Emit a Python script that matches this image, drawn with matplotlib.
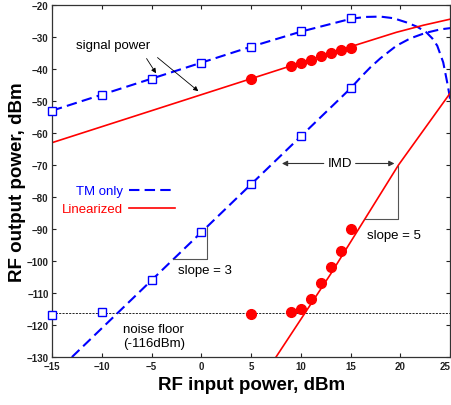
import matplotlib
matplotlib.use("Agg")
import matplotlib.pyplot as plt
from matplotlib.lines import Line2D

plt.rcParams["font.family"] = ["Liberation Sans", "DejaVu Sans"]

BLUE = "#0000ff"
RED = "#ff0000"

# measured points
tm_sig_x = [-15, -10, -5, 0, 5, 10, 15]
tm_sig_y = [-53, -48, -43, -38, -33, -28, -24]
tm_imd_x = [-15, -10, -5, 0, 5, 10, 15]
tm_imd_y = [-117, -116, -106, -91, -76, -61, -46]
lin_sig_x = [5, 9, 10, 11, 12, 13, 14, 15]
lin_sig_y = [-43, -39, -38, -37.2, -36, -35, -34, -33.5]
lin_imd_x = [5, 9, 10, 11, 12, 13, 14, 15]
lin_imd_y = [-116.5, -116, -115, -112, -107, -102, -97, -90]

# fitted curves
tm_sig_fit_x = [-15, -10, -5, 0, 5, 10, 15, 16.5, 18, 19.3, 20.6, 21.7, 22.6, 23.2, 23.7, 24.3, 24.7, 24.95, 25]
tm_sig_fit_y = [-53, -48, -43, -38, -33, -28.3, -24.3, -23.7, -23.6, -24.1, -25.4, -26.8, -28.5, -30.4, -32.7, -37.9, -44.2, -48.5, -50]
tm_imd_fit_x = [-13, 15, 16, 17, 18, 19.6, 21, 22.5, 24, 25]
tm_imd_fit_y = [-130, -46, -42.6, -39.4, -36.6, -32.7, -30.4, -28.7, -27.6, -27.2]
lin_sig_fit_x = [-15, 5, 15, 19.6, 22.3, 25]
lin_sig_fit_y = [-63, -43, -33, -28.5, -26.3, -24.4]
lin_imd_fit_x = [7.5, 13, 19.8, 25]
lin_imd_fit_y = [-130, -104, -70, -47.5]

noise_floor = -116.3

fig = plt.figure(figsize=(4.52, 4.06), dpi=100)
ax = fig.add_axes([0.115, 0.118, 0.881, 0.867])

ax.axhline(noise_floor, color="black", lw=0.6, ls=(0, (2.5, 1.5)), zorder=1)

dash = (0, (5, 2.5))
ax.plot(tm_sig_fit_x, tm_sig_fit_y, color=BLUE, lw=1.5, ls=dash)
ax.plot(tm_imd_fit_x, tm_imd_fit_y, color=BLUE, lw=1.5, ls=dash)
ax.plot(lin_sig_fit_x, lin_sig_fit_y, color=RED, lw=1.2)
ax.plot(lin_imd_fit_x, lin_imd_fit_y, color=RED, lw=1.2)

ax.plot(tm_sig_x, tm_sig_y, "s", ms=6.2, mfc="white", mec=BLUE, mew=1.0, ls="none", clip_on=False, zorder=3)
ax.plot(tm_imd_x, tm_imd_y, "s", ms=6.2, mfc="white", mec=BLUE, mew=1.0, ls="none", clip_on=False, zorder=3)
ax.plot(lin_sig_x, lin_sig_y, "o", ms=7, color=RED, ls="none", zorder=3)
ax.plot(lin_imd_x, lin_imd_y, "o", ms=7, color=RED, ls="none", zorder=3)

ax.set_xlim(-15, 25)
ax.set_ylim(-130, -20)
ax.set_xticks(range(-15, 26, 5))
ax.set_yticks(range(-130, -19, 10))
ax.tick_params(direction="in", length=3, width=0.8, top=True, right=True,
               labelsize=7, pad=2.5, colors="#222222")
for lab in ax.get_xticklabels() + ax.get_yticklabels():
    lab.set_fontweight("bold")
# last x label sits on the figure edge; keep it inside
ax.get_xticklabels()[-1].set_ha("right")
for s in ax.spines.values():
    s.set_linewidth(0.9)
    s.set_color("#333333")

ax.set_xlabel("RF input power, dBm", fontsize=13.5, fontweight="bold", labelpad=4)
ax.set_ylabel("RF output power, dBm", fontsize=13.5, fontweight="bold", labelpad=0.5)

fs = 9.5
# signal power annotation
ax.text(-8.9, -32.5, "signal power", fontsize=fs, ha="center", va="center")
arw = dict(arrowstyle="-|>", color="black", lw=0.6, mutation_scale=7, shrinkA=0, shrinkB=0)
ax.annotate("", xy=(-4.55, -41.3), xytext=(-5.5, -36.7), arrowprops=arw)
ax.annotate("", xy=(-0.3, -46.9), xytext=(-4.4, -36.4), arrowprops=arw)

# IMD double arrow
ax.text(13.9, -69.5, "IMD", fontsize=fs, ha="center", va="center")
arw2 = dict(arrowstyle="-|>", color="#333333", lw=0.8, mutation_scale=8, shrinkA=0, shrinkB=0)
ax.annotate("", xy=(8.1, -69.5), xytext=(12.3, -69.5), arrowprops=arw2)
ax.annotate("", xy=(19.4, -69.5), xytext=(15.5, -69.5), arrowprops=arw2)

# slope triangles
tri = dict(color="#555555", lw=0.8)
ax.plot([-2.8, 0.6, 0.6], [-99.2, -99.2, -89.5], **tri)
ax.plot([16.4, 19.8, 19.8], [-86.9, -86.9, -70.2], **tri)
ax.text(-2.3, -102.8, "slope = 3", fontsize=fs, ha="left", va="center")
ax.text(16.6, -91.9, "slope = 5", fontsize=fs, ha="left", va="center")

ax.text(-7.9, -123.4, "noise floor\n(-116dBm)", fontsize=fs, ha="left", va="center", linespacing=1.3)

handles = [Line2D([], [], color=BLUE, lw=1.5, ls=dash),
           Line2D([], [], color=RED, lw=1.2)]
ax.legend(handles, ["TM only", "Linearized"], loc="center right",
          bbox_to_anchor=(-2.6, -81), bbox_transform=ax.transData,
          frameon=False, markerfirst=False, labelcolor="linecolor",
          fontsize=fs, handlelength=3.5, handletextpad=0.5,
          labelspacing=0.45, borderpad=0, borderaxespad=0)

fig.savefig("out.png", dpi=100)
